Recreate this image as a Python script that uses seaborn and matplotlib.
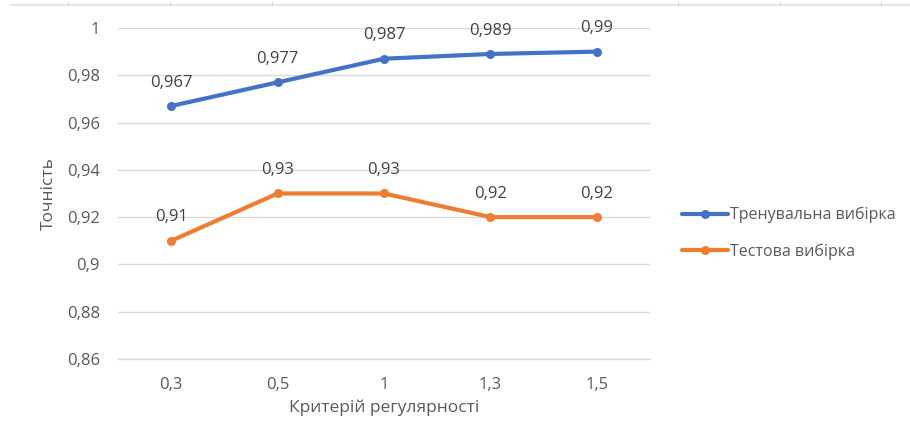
import matplotlib
matplotlib.use("Agg")
import matplotlib.pyplot as plt
from matplotlib.lines import Line2D
import seaborn as sns
import pandas as pd

# Regularity criterion values and accuracy on the two samples
criteria = ["0,3", "0,5", "1", "1,3", "1,5"]
train_acc = [0.967, 0.977, 0.987, 0.989, 0.99]
test_acc = [0.91, 0.93, 0.93, 0.92, 0.92]
series_names = ["Тренувальна вибірка", "Тестова вибірка"]
y_ticks = [0.86, 0.88, 0.90, 0.92, 0.94, 0.96, 0.98, 1.00]

sns.set_theme(style="white")
plt.rcParams["font.family"] = ["Open Sans", "DejaVu Sans"]

TEXT = "#595959"
GRID = "#D9D9D9"
COLORS = ["#4472C4", "#ED7D31"]


def fmt(v):
    s = f"{v:.3f}".rstrip("0").rstrip(".")
    return s.replace(".", ",")


df = pd.DataFrame({
    "criterion": criteria * 2,
    "accuracy": train_acc + test_acc,
    "series": [series_names[0]] * len(criteria) + [series_names[1]] * len(criteria),
})

fig = plt.figure(figsize=(9.10, 4.29), dpi=100)
ax = fig.add_axes([0.1297, 0.1632, 0.5846, 0.7716])

sns.lineplot(
    data=df, x="criterion", y="accuracy", hue="series",
    palette=COLORS, linewidth=3.0, marker="o", markersize=6.5,
    markeredgewidth=0, sort=False, ax=ax, legend=True,
)

ax.set_ylim(0.86, 1.0)
ax.set_xlim(-0.5, len(criteria) - 0.5)
ax.set_yticks(y_ticks)
ax.set_yticklabels([fmt(v) for v in y_ticks])
ax.yaxis.grid(True, color=GRID, linewidth=1.0)
ax.set_axisbelow(True)
for side in ["left", "right", "top"]:
    ax.spines[side].set_visible(False)
ax.spines["bottom"].set_color(GRID)
ax.spines["bottom"].set_linewidth(1.0)
ax.tick_params(axis="both", length=0, labelsize=12, colors=TEXT)
ax.tick_params(axis="y", pad=13)
ax.tick_params(axis="x", pad=13)

ax.set_xlabel("Критерій регулярності", fontsize=12.5, color=TEXT, labelpad=5)
ax.set_ylabel("Точність", fontsize=12.5, color=TEXT, labelpad=7)

# value labels above each point
for vals in (train_acc, test_acc):
    for i, v in enumerate(vals):
        ax.annotate(fmt(v), (i, v), xytext=(0, 11), textcoords="offset points",
                    ha="center", va="bottom", fontsize=12, color="#404040")

handles, labels = ax.get_legend_handles_labels()
leg = ax.legend(handles, labels, loc="center left", bbox_to_anchor=(1.033, 0.38),
                frameon=False, fontsize=11.5, labelcolor=TEXT,
                handlelength=2.9, handletextpad=0.1, labelspacing=1.25)

# thin sheet row line along the top edge
W, H = 910, 429
fig.add_artist(Line2D([10 / W, 1.0], [1 - 5 / H, 1 - 5 / H], color="#E0E0E0", lw=1.2))
for tx in [68, 170, 272, 678, 780, 881]:
    fig.add_artist(Line2D([tx / W, tx / W], [1 - 5 / H, 1 - 2 / H], color="#D0D0D0", lw=0.8))

fig.savefig("out.png", dpi=100)
